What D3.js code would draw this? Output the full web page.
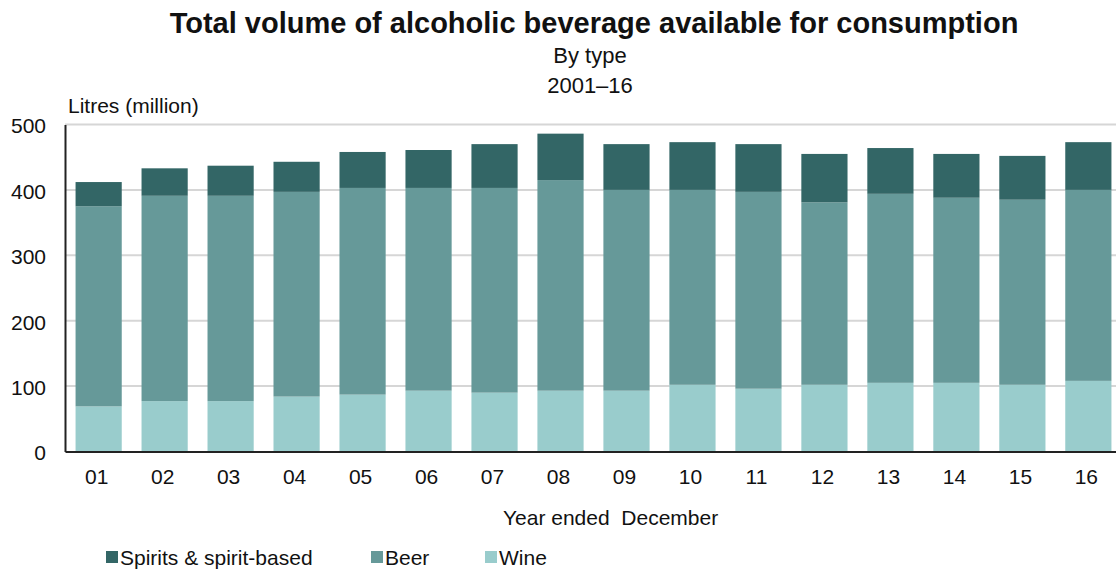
<!DOCTYPE html>
<html>
<head>
<meta charset="utf-8">
<script src="https://cdn.jsdelivr.net/npm/d3@7"></script>
<style>
  html, body { margin: 0; padding: 0; background: #fff; }
  svg { display: block; }
  text { font-family: "Liberation Sans", Arial, sans-serif; fill: #111; }
</style>
</head>
<body>
<svg id="chart" width="1116" height="569"></svg>
<script>
// Year labels (year ended December, 2001–2016)
const years = ["01","02","03","04","05","06","07","08","09","10","11","12","13","14","15","16"];

// Litres (million) by beverage type
const wine    = [69, 77, 77, 84, 87, 93, 90, 93, 93, 102, 96, 102, 105, 105, 102, 108];
const beer    = [306, 314, 314, 313, 316, 310, 313, 322, 307, 298, 301, 279, 289, 283, 283, 292];
const spirits = [37, 42, 46, 46, 55, 58, 67, 71, 70, 73, 73, 74, 70, 67, 67, 73];

const yTicks = [0, 100, 200, 300, 400, 500];

const seriesNames  = ["Wine", "Beer", "Spirits & spirit-based"];
const seriesColors = ["#99cccc", "#669999", "#336666"];

const svg = d3.select("#chart");

const plot = { left: 65, right: 1122, top: 124.5, bottom: 451.5 };

const x = d3.scaleBand()
  .domain(years)
  .range([plot.left, plot.right])
  .paddingInner(0.3)
  .paddingOuter(0.16);

const y = d3.scaleLinear()
  .domain([0, 500])
  .range([plot.bottom, plot.top]);

// Titles
svg.append("text")
  .attr("x", 594).attr("y", 33)
  .attr("text-anchor", "middle")
  .style("font-size", "29px").style("font-weight", "bold")
  .text("Total volume of alcoholic beverage available for consumption");
svg.append("text")
  .attr("x", 590).attr("y", 63)
  .attr("text-anchor", "middle")
  .style("font-size", "22px")
  .text("By type");
svg.append("text")
  .attr("x", 590).attr("y", 93)
  .attr("text-anchor", "middle")
  .style("font-size", "22px")
  .text("2001–16");
svg.append("text")
  .attr("x", 68).attr("y", 113)
  .style("font-size", "21px")
  .text("Litres (million)");

// Horizontal gridlines
svg.append("g")
  .selectAll("line")
  .data(yTicks.filter(d => d > 0))
  .join("line")
  .attr("x1", plot.left).attr("x2", plot.right)
  .attr("y1", d => y(d)).attr("y2", d => y(d))
  .attr("stroke", "#d6d6d6")
  .attr("stroke-width", 2);

// Stacked bars
const rows = years.map((yr, i) => ({ year: yr, Wine: wine[i], Beer: beer[i], "Spirits & spirit-based": spirits[i] }));
const stack = d3.stack().keys(seriesNames)(rows);

svg.append("g")
  .selectAll("g")
  .data(stack)
  .join("g")
  .attr("fill", (d, i) => seriesColors[i])
  .selectAll("rect")
  .data(d => d)
  .join("rect")
  .attr("x", d => x(d.data.year))
  .attr("width", x.bandwidth())
  .attr("y", d => y(d[1]))
  .attr("height", d => y(d[0]) - y(d[1]));

// Y axis
const yAxis = svg.append("g")
  .attr("transform", `translate(${plot.left},0)`)
  .call(d3.axisLeft(y).tickValues(yTicks).tickSize(0).tickPadding(19));
yAxis.select(".domain").attr("stroke", "#222").attr("stroke-width", 2);
yAxis.selectAll("text")
  .style("font-size", "21px")
  .style("font-family", "'Liberation Sans', Arial, sans-serif")
  .attr("fill", "#111")
  .attr("dy", "0.4em");

// X axis
const xAxis = svg.append("g")
  .attr("transform", `translate(0,${plot.bottom})`)
  .call(d3.axisBottom(x).tickSize(0).tickPadding(18));
xAxis.select(".domain").attr("stroke", "#222").attr("stroke-width", 2);
xAxis.selectAll("text")
  .style("font-size", "21px")
  .style("font-family", "'Liberation Sans', Arial, sans-serif")
  .attr("fill", "#111")
  .attr("dx", "-2");

svg.append("text")
  .attr("x", 503).attr("y", 525)
  .style("font-size", "21px")
  .style("white-space", "pre")
  .attr("xml:space", "preserve")
  .text("Year ended  December");

// Legend
const legendItems = [
  { name: "Spirits & spirit-based", color: seriesColors[2], x: 106 },
  { name: "Beer", color: seriesColors[1], x: 371 },
  { name: "Wine", color: seriesColors[0], x: 485 }
];
const legend = svg.append("g").selectAll("g")
  .data(legendItems)
  .join("g")
  .attr("transform", d => `translate(${d.x},551)`);
legend.append("rect")
  .attr("width", 12).attr("height", 12)
  .attr("fill", d => d.color);
legend.append("text")
  .attr("x", 14).attr("y", 14)
  .style("font-size", "21px")
  .text(d => d.name);
</script>
</body>
</html>
